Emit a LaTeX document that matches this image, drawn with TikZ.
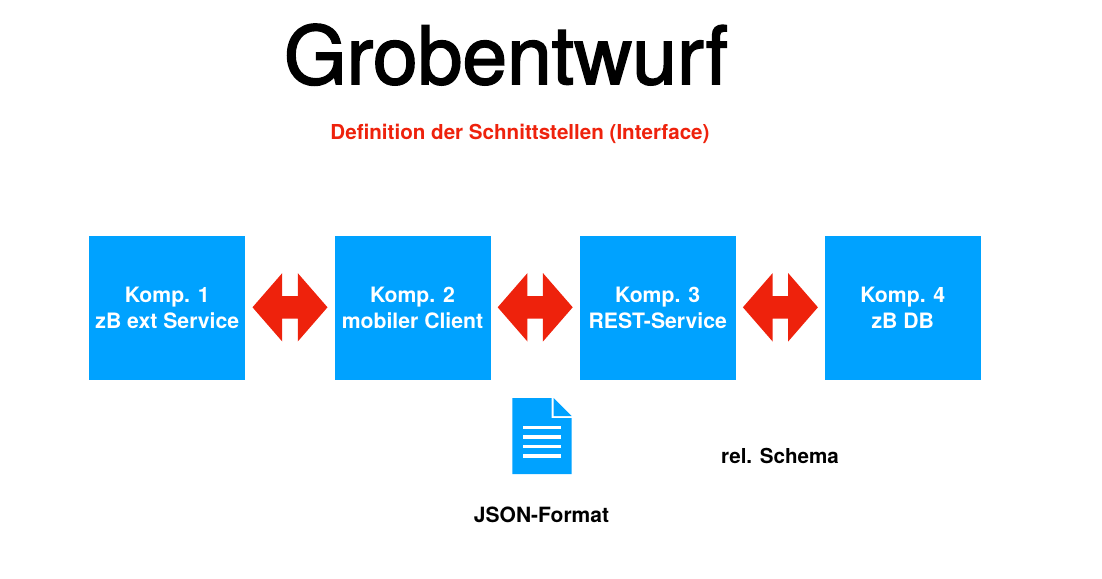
\documentclass[tikz,border=0pt]{standalone}
\usepackage{fontspec}
\setmainfont{TeX Gyre Heros}
\newfontfamily\titlefont[FakeBold=2]{TeX Gyre Heros}
\usetikzlibrary{shapes.arrows}
\definecolor{kompblue}{HTML}{00A2FF}
\definecolor{kompred}{HTML}{EE220C}
\begin{document}
\begin{tikzpicture}[
    x=1pt,y=-1pt,
    komp/.style={fill=kompblue,text=white,align=center,inner sep=0pt,outer sep=0pt,minimum width=156pt,minimum height=144pt,font=\fontsize{21.2}{26}\selectfont\bfseries},
    dblarr/.style={double arrow,fill=kompred,inner xsep=0pt,inner ysep=11pt,outer sep=0pt,minimum height=75pt,double arrow head extend=23pt,double arrow tip angle=98},
    lbl/.style={anchor=base,inner sep=0pt,font=\fontsize{20.6}{24}\selectfont\bfseries}
]
\useasboundingbox (0,0) rectangle (1102,578);
\node[anchor=base,inner sep=0pt,font=\fontsize{80.4}{96}\titlefont] (title) at (506,84) {Grobentwurf};
\node[lbl,text=kompred] (subtitle) at (520,139) {Definition der Schnittstellen (Interface)};
\node[komp] (komp1) at (167.3,308) {Komp. 1\\zB ext Service};
\node[komp] (komp2) at (412.5,308) {Komp. 2\\mobiler Client};
\node[komp] (komp3) at (657.7,308) {Komp. 3\\REST-Service};
\node[komp] (komp4) at (902.8,308) {Komp. 4\\zB DB};
\node[dblarr] (arr12) at (290,307.3) {};
\node[dblarr] (arr23) at (535.2,307.3) {};
\node[dblarr] (arr34) at (780.4,307.3) {};
% document icon
\fill[kompblue] (512.3,398) -- (551.7,398) -- (551.7,418) -- (571.7,418) -- (571.7,474) -- (512.3,474) -- cycle;
\fill[kompblue] (553.7,398) -- (571.7,416) -- (553.7,416) -- cycle;
\foreach \y in {427.3,437,446.7,456}
  \fill[white] (523,\y-1.7) rectangle (561,\y+1.7);
\node[lbl,font=\fontsize{21}{24}\selectfont\bfseries] (json) at (541.5,522) {JSON-Format};
\node[lbl] (schema) at (780,463.5) {rel. Schema};
\end{tikzpicture}
\end{document}
